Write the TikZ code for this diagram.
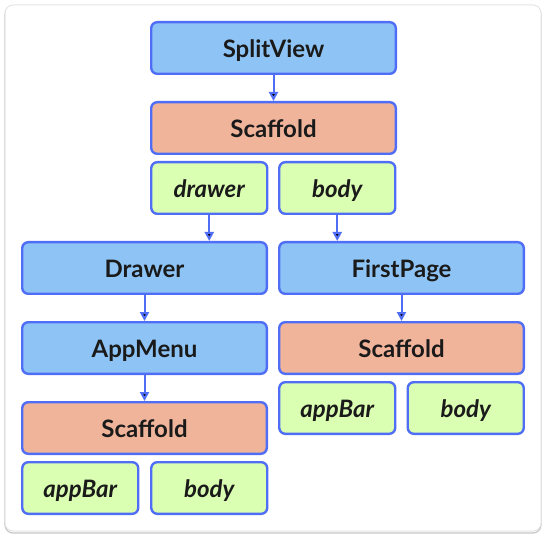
\documentclass[tikz,border=0pt]{standalone}
\usepackage{fontspec}
\setmainfont{Lato}
\usepackage{tikz}
\usetikzlibrary{arrows.meta}
\definecolor{widgetblue}{RGB}{142,196,245}
\definecolor{scaffoldred}{RGB}{240,180,155}
\definecolor{slotgreen}{RGB}{219,255,178}
\definecolor{edgeblue}{RGB}{80,110,245}
\definecolor{inkgray}{RGB}{26,26,26}

\begin{document}
\begin{tikzpicture}[x=1pt, y=-1pt,
  box/.style={rectangle, rounded corners=6pt, draw=edgeblue, line width=2.4pt, inner sep=0pt, minimum height=51.6pt, text height=22.8pt, text depth=4.2pt, text=inkgray, font=\fontsize{24}{28}\selectfont\bfseries},
  wide/.style={box, minimum width=244.6pt},
  slim/.style={box, minimum width=116pt, font=\fontsize{24}{28}\selectfont\bfseries\itshape},
  widget/.style={wide, fill=widgetblue},
  scaffold/.style={wide, fill=scaffoldred},
  slot/.style={slim, fill=slotgreen},
  link/.style={draw=edgeblue, line width=2pt, -{Triangle[length=9pt,width=9pt]}}]
\useasboundingbox (0,0) rectangle (546,537);
\draw[gray!45, line width=1.2pt, rounded corners=8pt] (5,6.5) rectangle (541,533);
\draw[gray!20, fill=white, line width=1pt, rounded corners=8pt] (5,5) rectangle (541,531);
\node[widget] (split) at (273.5,48) {SplitView};
\node[scaffold] (scaf) at (273.5,128) {Scaffold};
\node[slot] (drawer) at (209.25,188) {drawer};
\node[slot] (body) at (337.25,188) {body};
\node[widget] (drawerw) at (144.5,268) {Drawer};
\node[widget] (first) at (401.5,268) {FirstPage};
\node[widget] (menu) at (144.5,348) {AppMenu};
\node[scaffold] (scafr) at (401.5,348) {Scaffold};
\node[slot] (barr) at (337.25,408) {appBar};
\node[slot] (bodyr) at (465.75,408) {body};
\node[scaffold] (scafl) at (144.5,428) {Scaffold};
\node[slot] (barl) at (80.25,488) {appBar};
\node[slot] (bodyl) at (209.25,488) {body};
\path[link]
(split) edge (scaf)
(drawer) edge (drawer |- drawerw.north)
(body) edge (body |- first.north)
(drawerw) edge (menu)
(first) edge (scafr)
(menu) edge (scafl);
\end{tikzpicture}
\end{document}
